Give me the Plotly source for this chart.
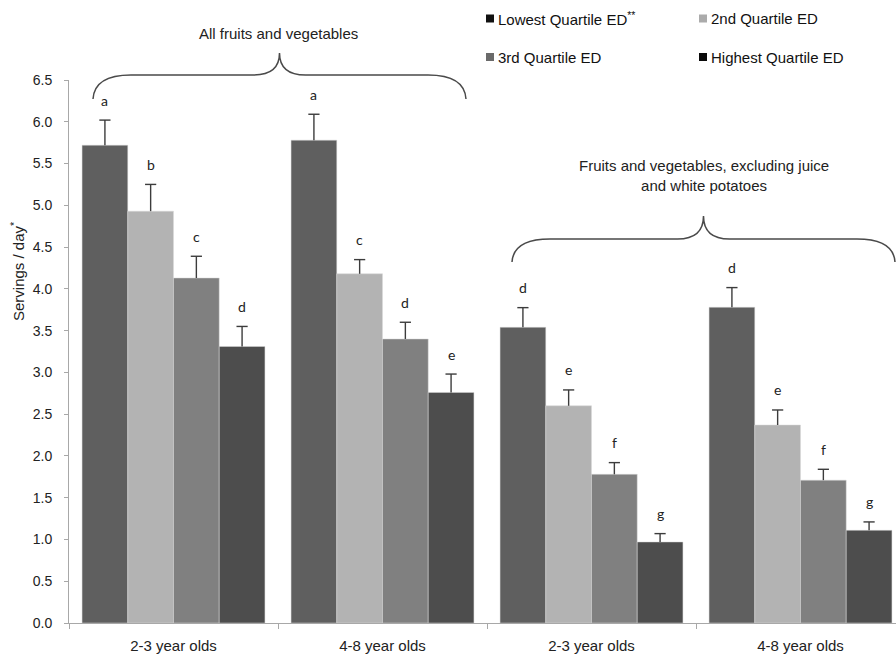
import plotly.graph_objects as go

# ---------------- data ----------------
categories = ["2-3 year olds", "4-8 year olds", "2-3 year olds", "4-8 year olds"]
series_names = ["Lowest Quartile ED", "2nd Quartile ED", "3rd Quartile ED", "Highest Quartile ED"]

lowest = [5.72, 5.78, 3.54, 3.78]
second = [4.93, 4.18, 2.60, 2.37]
third = [4.13, 3.40, 1.78, 1.71]
highest = [3.31, 2.76, 0.97, 1.11]

lowest_se = [0.30, 0.31, 0.235, 0.235]
second_se = [0.32, 0.17, 0.19, 0.18]
third_se = [0.26, 0.20, 0.14, 0.13]
highest_se = [0.24, 0.22, 0.10, 0.10]

lowest_sig = ["a", "a", "d", "d"]
second_sig = ["b", "c", "e", "e"]
third_sig = ["c", "d", "f", "f"]
highest_sig = ["d", "e", "g", "g"]

y_ticks = [0.0, 0.5, 1.0, 1.5, 2.0, 2.5, 3.0, 3.5, 4.0, 4.5, 5.0, 5.5, 6.0, 6.5]

group_titles = ["All fruits and vegetables",
                "Fruits and vegetables, excluding juice<br>and white potatoes"]

# ---------------- styling ----------------
bar_colors = ["#5f5f5f", "#b3b3b3", "#808080", "#4d4d4d"]
legend_colors = ["#111111", "#ababab", "#6a6a6a", "#0a0a0a"]
ERR_COLOR = "#3c3c3c"
FONT = "Liberation Sans, Arial, sans-serif"
LETTER_FONT = "Lato, Carlito, sans-serif"

W, H = 896, 654
ML, MR, MT, MB = 69, 0, 80, 31
PW, PH = W - ML - MR, H - MT - MB
BARGAP = 0.125
XMIN = -0.5
XMAX = XMIN + PW / 209.0


def px(x):
    return (x - ML) / PW


def py(y):
    return (H - MB - y) / PH


xpos = list(range(len(categories)))
values = [lowest, second, third, highest]
errors = [lowest_se, second_se, third_se, highest_se]
sigs = [lowest_sig, second_sig, third_sig, highest_sig]
bw = (1 - BARGAP) / len(series_names)

fig = go.Figure()
for name, vals, se, col in zip(series_names, values, errors, bar_colors):
    fig.add_trace(go.Bar(
        x=xpos, y=vals, name=name,
        marker=dict(color=col, line=dict(color="#d8d8d8", width=0.5)),
        error_y=dict(type="data", array=se, arrayminus=[0] * len(se), symmetric=False,
                     color=ERR_COLOR, thickness=1.4, width=0),
        showlegend=False, hoverinfo="y+name",
    ))

# error-bar caps (top only)
for j, (vals, se) in enumerate(zip(values, errors)):
    fig.add_trace(go.Scatter(
        x=[i - (1 - BARGAP) / 2 + bw * (j + 0.5) for i in xpos],
        y=[v + e for v, e in zip(vals, se)],
        mode="markers",
        marker=dict(symbol="line-ew", size=8, line=dict(color=ERR_COLOR, width=1.4)),
        showlegend=False, hoverinfo="skip",
    ))

annotations = []
for j, (vals, se, sg) in enumerate(zip(values, errors, sigs)):
    for i in xpos:
        annotations.append(dict(
            x=i - (1 - BARGAP) / 2 + bw * (j + 0.5), y=vals[i] + se[i],
            xref="x", yref="y", text=sg[i], showarrow=False,
            yanchor="middle", yshift=20,
            font=dict(family=LETTER_FONT, size=14, color="#222222"),
        ))

# group titles
annotations.append(dict(x=px(278), y=py(33), xref="paper", yref="paper",
                        text=group_titles[0], showarrow=False,
                        xanchor="center", yanchor="middle",
                        font=dict(family=FONT, size=15, color="#222222")))
annotations.append(dict(x=px(704), y=py(175), xref="paper", yref="paper",
                        text=group_titles[1], showarrow=False,
                        xanchor="center", yanchor="middle",
                        font=dict(family=FONT, size=15, color="#222222")))

# y-axis title
annotations.append(dict(x=px(17), y=py(272), xref="paper", yref="paper",
                        text="Servings / day<sup>*</sup>", showarrow=False,
                        textangle=-90, xanchor="center", yanchor="middle",
                        font=dict(family=FONT, size=15, color="#222222")))

# legend (as annotations + squares)
legend_pos = [(490, 18.5), (703, 18.5), (490, 57), (703, 57)]
legend_labels = [series_names[0] + "<sup>**</sup>", series_names[1], series_names[2], series_names[3]]
shapes = []
for (lx, ly), lab, col in zip(legend_pos, legend_labels, legend_colors):
    shapes.append(dict(type="rect", xref="paper", yref="paper",
                       x0=px(lx - 4), x1=px(lx + 4), y0=py(ly + 4), y1=py(ly - 4),
                       fillcolor=col, line=dict(width=0)))
    annotations.append(dict(x=px(lx + 6), y=py(ly), xref="paper", yref="paper",
                            text=lab, showarrow=False, xanchor="left", yanchor="middle",
                            font=dict(family=FONT, size=15, color="#111111")))


def brace(xl, xr, yend, yh, ycusp):
    xc = (xl + xr) / 2
    r = 38
    cr = 26

    def P(x, y):
        return f"{px(x):.5f},{py(y):.5f}"
    d = (f"M{P(xl, yend)} "
         f"C{P(xl + 1, yh + (yend - yh) * 0.35)} {P(xl + r * 0.35, yh)} {P(xl + r, yh)} "
         f"L{P(xc - cr, yh)} "
         f"C{P(xc - cr * 0.3, yh)} {P(xc, yh - (yh - ycusp) * 0.35)} {P(xc, ycusp)} "
         f"C{P(xc, yh - (yh - ycusp) * 0.35)} {P(xc + cr * 0.3, yh)} {P(xc + cr, yh)} "
         f"L{P(xr - r, yh)} "
         f"C{P(xr - r * 0.35, yh)} {P(xr - 1, yh + (yend - yh) * 0.35)} {P(xr, yend)}")
    return dict(type="path", xref="paper", yref="paper", path=d,
                line=dict(color="#4a4a4a", width=1.5))


shapes.append(brace(93, 466, 99, 75, 53))
shapes.append(brace(512, 895, 262, 239, 216))

fig.update_layout(
    width=W, height=H,
    margin=dict(l=ML, r=MR, t=MT, b=MB),
    paper_bgcolor="white", plot_bgcolor="white",
    barmode="group", bargap=BARGAP, bargroupgap=0,
    font=dict(family=FONT, color="#222222"),
    annotations=annotations, shapes=shapes,
    showlegend=False,
)
fig.update_xaxes(
    range=[XMIN, XMAX], tickmode="array", tickvals=xpos, ticktext=categories,
    ticks="", showline=True, linecolor="#a8a8a8", linewidth=1,
    showgrid=False, zeroline=False, automargin=False,
    tickfont=dict(family=FONT, size=15, color="#222222"),
    ticklabelstandoff=9,
    minor=dict(tickmode="array", tickvals=[-0.5, 0.5, 1.5, 2.5, 3.5], ticks="outside",
               ticklen=5, tickcolor="#a8a8a8", tickwidth=1, showgrid=False),
)
fig.update_yaxes(
    range=[0, 6.5], tickmode="array", tickvals=y_ticks,
    ticktext=[f"{v:.1f}" for v in y_ticks],
    ticks="outside", ticklen=4, tickcolor="#a8a8a8", tickwidth=1,
    showline=True, linecolor="#a8a8a8", linewidth=1,
    showgrid=False, zeroline=False, automargin=False,
    tickfont=dict(family=FONT, size=14, color="#222222"),
    ticklabelstandoff=9,
)

fig.write_html("out.html",
               config={"displayModeBar": False},
               post_script="document.body.style.margin='0';document.body.style.overflow='hidden';")
